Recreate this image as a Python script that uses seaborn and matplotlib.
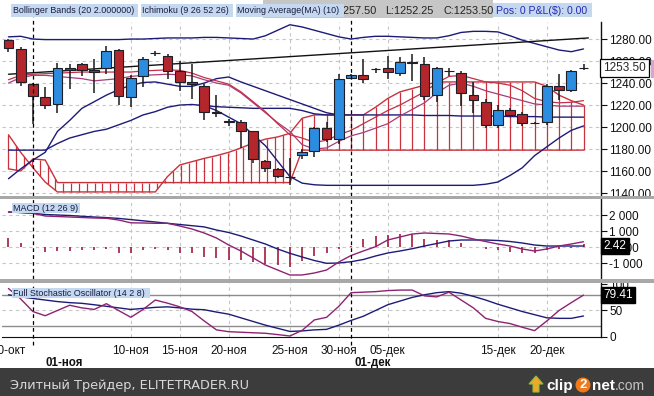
import numpy as np
import matplotlib
matplotlib.use("Agg")
import matplotlib.pyplot as plt
import matplotlib.transforms as mtransforms
from matplotlib.patches import Rectangle, Polygon, Ellipse
import seaborn as sns

sns.set_style("white")
plt.rcParams["font.family"] = ["Liberation Sans", "DejaVu Sans"]

W, H = 654, 396

# ---- price bars (one per session, Sunday sessions included) ----
opens = [1279, 1270.5, 1239.5, 1227, 1220.5, 1254, 1257, 1252, 1253.5, 1270,
         1227.5, 1246, 1267.5, 1265, 1250.5, 1240.5, 1237.5, 1213.5, 1205.5, 1205,
         1196, 1169.5, 1162, 1154.5, 1174.5, 1178, 1199, 1189, 1244.5, 1247.5,
         1253, 1254, 1249, 1259.5, 1257, 1229, 1251, 1249.5, 1229.5, 1223,
         1202, 1215.5, 1212, 1204, 1205, 1237, 1233.5, 1254]
highs = [1280, 1272.5, 1240, 1236.5, 1258, 1257, 1258, 1261.5, 1273.5, 1271,
         1247.5, 1263.5, 1269, 1266, 1260, 1257, 1239.5, 1229, 1207, 1206,
         1196.5, 1170, 1162.5, 1171.5, 1180, 1200, 1205, 1248, 1248.5, 1262,
         1254, 1264.5, 1264, 1266, 1264, 1254.5, 1254, 1250.5, 1241, 1225.5,
         1220, 1217, 1213.5, 1204.5, 1239, 1248, 1252, 1257.5]
lows = [1268, 1237.5, 1203, 1216.5, 1213, 1234.5, 1246, 1230.5, 1248, 1220,
        1218, 1236, 1265, 1244, 1232.5, 1225.5, 1206.5, 1209.5, 1201, 1180.5,
        1167, 1159, 1153.5, 1147.5, 1171, 1173, 1186, 1185, 1243.5, 1240,
        1249, 1243.5, 1246, 1242, 1224.5, 1223, 1246.5, 1219.5, 1212.5, 1199,
        1199.5, 1210, 1201, 1202.5, 1202, 1224.5, 1232, 1252.25]
closes = [1271.5, 1240.5, 1228, 1220, 1253.5, 1251.5, 1252, 1250, 1269.5, 1228,
          1245, 1262, 1267, 1250.5, 1240.5, 1239, 1213.5, 1213, 1205, 1196.5,
          1170.5, 1163, 1155.5, 1154.5, 1177.5, 1199, 1189.5, 1243.5, 1247.5, 1244,
          1252.5, 1250, 1259.5, 1258, 1228.5, 1253.5, 1250.5, 1230.5, 1224.5, 1202,
          1215.5, 1211, 1203.5, 1203.5, 1237, 1233.5, 1251, 1253.5]

tick_pos = [0, 10, 14, 18, 23, 27, 31, 40, 44]
tick_labels = ["30-окт", "10-ноя", "15-ноя", "20-ноя", "25-ноя", "30-ноя",
               "05-дек", "15-дек", "20-дек"]
month_pos = [2, 28]
month_label_x = [3.0, 28.3]
month_labels = ["01-ноя", "01-дек"]

# ---- overlays ----
bb_upper = [1282, 1282.5, 1280, 1279.5, 1279.5, 1279.5, 1279.5, 1279.5, 1279.5, 1279.5,
            1280, 1280, 1280.5, 1281, 1281, 1281, 1281.5, 1281.5, 1281, 1280.5,
            1280, 1283, 1288, 1293, 1291, 1288, 1285, 1282, 1280, 1281.5,
            1282.5, 1282.5, 1282, 1281.5, 1281, 1281, 1283, 1286, 1287, 1287,
            1286.5, 1283, 1279, 1276, 1273, 1270, 1268.5, 1271]
bb_mid = [1179, 1179, 1179, 1179, 1185, 1190, 1193, 1196, 1198, 1202,
          1206, 1211, 1214, 1218, 1220, 1220.5, 1219.5, 1218.5, 1218, 1217.5,
          1217, 1217, 1217, 1217, 1215, 1212, 1211, 1211, 1211, 1211,
          1211, 1211, 1211, 1211, 1210.5, 1210.5, 1210.5, 1210, 1210, 1210,
          1210, 1209.5, 1209.5, 1209.5, 1209, 1209, 1209, 1209]
bb_lower_start = 16
bb_lower = [1219.5, 1215, 1209, 1203, 1193, 1183, 1169, 1155, 1149, 1147.5,
            1147, 1147, 1147, 1147, 1147, 1147, 1147, 1147, 1147, 1147,
            1147, 1147, 1147, 1148, 1150, 1156, 1163, 1174, 1182, 1190,
            1197, 1201]
kijun = [1153, 1162, 1170, 1177, 1196, 1206, 1217, 1223, 1229, 1234,
         1238, 1240.5, 1241, 1239, 1237, 1237, 1240, 1244, 1245.5, 1241,
         1237, 1233, 1229, 1225, 1221, 1217, 1213, 1211]
tenkan = [1243, 1247, 1248, 1248.5, 1249, 1249.5, 1250, 1250, 1250, 1250,
          1250, 1251, 1251.5, 1252, 1251.5, 1249, 1245, 1242, 1239, 1232,
          1223, 1214, 1203, 1193, 1190, 1186, 1188, 1193, 1197, 1203,
          1209, 1215, 1220, 1226, 1232, 1240, 1246, 1247, 1244, 1241,
          1240, 1238, 1233, 1226, 1223, 1222, 1222.5, 1224]
ma10 = [1240, 1245, 1247, 1247, 1246, 1245, 1244, 1242, 1243, 1244,
        1246, 1247, 1247.5, 1248, 1247.5, 1246.5, 1243, 1240, 1238, 1231,
        1222, 1213, 1204, 1196, 1184, 1180, 1181, 1187, 1192, 1195,
        1199, 1203, 1210, 1216, 1222, 1231, 1238, 1240, 1237, 1233,
        1230, 1227, 1224, 1221, 1220, 1219, 1219, 1219]
span_a = [1193, 1177, 1163, 1150, 1141, 1141, 1141, 1141, 1141, 1141,
          1141, 1141, 1141, 1155, 1165.5, 1168.5, 1171.5, 1174, 1177, 1181,
          1185.5, 1189, 1191, 1194.3, 1208, 1211, 1211, 1211, 1211, 1211,
          1218, 1226, 1232, 1235, 1238, 1241, 1241, 1241, 1241, 1241,
          1241, 1241, 1241, 1241, 1237, 1229, 1224, 1220]
span_b = [1162, 1160, 1171, 1170, 1149.5, 1149.5, 1149.5, 1149.5, 1149.5, 1149.5,
          1149.5, 1149.5, 1149.5, 1149.5, 1149.5, 1149.5, 1149.5, 1149.5, 1149.5, 1149.5,
          1149.5, 1149.5, 1149.5, 1149.5, 1179, 1179, 1179, 1179, 1179, 1179,
          1179, 1179, 1179, 1179, 1179, 1179, 1179, 1179, 1179, 1179,
          1179, 1179, 1179, 1179, 1179, 1179, 1179, 1179]
trend_x = [0, 47.4]
trend_y = [1248, 1281]

# ---- MACD (12 26 9) ----
macd_line = [2206, 2175, 2125, 1956, 1925, 1894, 1863, 1831, 1813, 1706,
             1531, 1520, 1500, 1500, 1331, 1144, 894, 581, 144, -231,
             -669, -1106, -1419, -1731, -1731, -1606, -1419, -919, -513, -231,
             38, 456, 644, 831, 894, 863, 831, 706, 519, 363,
             206, 81, -106, -231, -106, 81, 206, 350]
macd_signal = [2206, 2175, 2125, 2050, 2019, 1988, 1938, 1894, 1856, 1806,
               1731, 1656, 1581, 1500, 1425, 1350, 1275, 1081, 925, 706,
               456, 206, -106, -375, -606, -825, -1000, -981, -900, -763,
               -544, -356, -231, -88, 81, 238, 394, 456, 456, 456,
               425, 363, 269, 144, 81, 81, 81, 81]
macd_hist = [560, 290, 0, -270, -210, -230, -170, -170, -80, -330,
             -330, -170, -120, -170, -375, -375, -580, -690, -790, -790,
             -900, -1040, -1100, -1250, -830, -540, -375, -100, 100, 500,
             710, 770, 830, 830, 500, 460, 460, 250, 0, -125,
             -170, -270, -375, -375, -170, -100, -60, 200]

# ---- Full Stochastic (14 2 8) ----
stoch_k = [92, 72, 48, 40, 50, 60, 55, 52, 63, 50,
           37, 52, 70, 64, 57, 48, 30, 13, 9.5, 8.5,
           7.5, 6.5, 4, 1.3, 12, 32, 37, 58, 84, 85,
           86, 88, 89, 89, 78, 76, 85, 70, 55, 35,
           29, 25, 18, 11.5, 30, 50, 65, 79.41]
stoch_d = [80, 76, 73, 70, 67, 65, 63.7, 61, 58, 55,
           52, 54, 56, 57, 55, 52.5, 51.5, 47, 43, 36,
           29, 22, 16, 10, 11, 13, 14, 22, 31, 39,
           50, 61, 68, 75, 80, 84, 86, 83, 77, 70,
           62, 55, 48, 42, 36, 35, 35, 39.5]

RED, BLUE, NAVY = "#b3262b", "#2b8ce0", "#1c1c78"
CLOUD, TENK, MAC = "#c8323c", "#c2304a", "#a83c78"
PURP, HIST, GRID = "#8e2272", "#a01e3c", "#c6c6c6"
LBLUE = "#c4d8ef"

fig = plt.figure(figsize=(W / 100, H / 100), dpi=100)
fig.patch.set_facecolor("white")


def px_axes(x0, y0, x1, y1):
    return fig.add_axes([x0 / W, 1 - y1 / H, (x1 - x0) / W, (y1 - y0) / H])


def box(x0, y0, x1, y1, color, z=1):
    fig.patches.append(Rectangle((x0 / W, 1 - y1 / H), (x1 - x0) / W, (y1 - y0) / H,
                                 transform=fig.transFigure, facecolor=color,
                                 edgecolor="none", zorder=z))


def ftext(x, y, s, **kw):
    fig.text(x / W, 1 - y / H, s, parse_math=False, **kw)


def line(ax, x, y, color, lw=1.0, z=4):
    sns.lineplot(x=list(x), y=list(y), ax=ax, color=color, linewidth=lw,
                 zorder=z, legend=False, sort=False, estimator=None)


def setup(ax, yticks, ylabels, ylim):
    ax.set_xlim(-0.53, 48.43)
    ax.set_ylim(*ylim)
    for s in ("left", "top", "bottom"):
        ax.spines[s].set_visible(False)
    ax.spines["right"].set_color("#111111")
    ax.spines["right"].set_linewidth(1)
    ax.yaxis.tick_right()
    ax.set_yticks(yticks)
    ax.set_yticklabels(ylabels)
    ax.tick_params(axis="y", direction="out", length=4, width=0.8, pad=2,
                   labelsize=8.5, colors="#111111")
    ax.set_xticks(tick_pos)
    ax.tick_params(axis="x", length=0, labelbottom=False)
    for p in tick_pos[1:]:
        ax.axvline(p, color=GRID, lw=0.8, ls=(0, (3, 3)), zorder=0)
    ax.set_xlabel("")
    ax.set_ylabel("")


idx = np.arange(len(closes))

# ---------------- price panel ----------------
ax = px_axes(2, 22, 601, 196)
price_ticks = [1140, 1160, 1180, 1200, 1220, 1240, 1260, 1280]
setup(ax, price_ticks, [f"{v:.2f}" for v in price_ticks], (1137.3, 1295.5))
for v in price_ticks:
    ax.axhline(v, color=GRID, lw=0.8, ls=(0, (3, 3)), zorder=0)

# Ichimoku cloud
line(ax, idx, span_a, CLOUD, 1.0, 2)
line(ax, idx, span_b, CLOUD, 1.0, 2)
hx = np.concatenate([np.arange(0, 23.6, 0.64), np.arange(24, len(idx), 1.0)])
ax.vlines(hx, np.interp(hx, idx, span_a), np.interp(hx, idx, span_b),
          color=CLOUD, lw=0.9, zorder=2)

line(ax, idx, bb_upper, NAVY)
line(ax, idx, bb_mid, NAVY)
line(ax, np.arange(bb_lower_start, bb_lower_start + len(bb_lower)), bb_lower, NAVY)
line(ax, np.arange(len(kijun)), kijun, NAVY)
line(ax, idx, ma10, MAC, 0.9)
line(ax, idx, tenkan, TENK, 0.9)
line(ax, trend_x, trend_y, "#111111", 1.0)

o, c = np.array(opens), np.array(closes)
body_lo = np.minimum(o, c)
body_h = np.maximum(np.abs(c - o), 0.35)
ax.vlines(idx, lows, highs, color="#1a1a1a", lw=1.1, zorder=5)
ax.bar(idx, body_h, bottom=body_lo, width=0.8, color=np.where(c > o, BLUE, RED),
       edgecolor="#1e1e28", linewidth=0.8, zorder=6)

ax.text(1.004, closes[-1], f"{closes[-1]:.2f}", transform=ax.get_yaxis_transform(),
        ha="left", va="center", fontsize=8.5, zorder=10,
        bbox=dict(boxstyle="square,pad=0.25", fc="white", ec="black", lw=0.9))

# ---------------- MACD panel ----------------
axm = px_axes(2, 199, 601, 279)
macd_ticks = [-1000, 0, 1000, 2000]
setup(axm, macd_ticks, ["-1 000", "0 000", "1 000", "2 000"], (-1981, 3019))
for v in macd_ticks:
    axm.axhline(v, color=GRID, lw=0.8, ls=(0, (3, 3)), zorder=0)
axm.vlines(idx, 0, macd_hist, color=HIST, lw=1.2, zorder=3)
line(axm, idx, macd_signal, NAVY)
line(axm, idx, macd_line, PURP)
axm.text(1.004, macd_signal[-1], "2.42", transform=axm.get_yaxis_transform(),
         ha="left", va="center", fontsize=8.5, color="white", zorder=10,
         bbox=dict(boxstyle="square,pad=0.2", fc="black", ec="black"))

# ---------------- Stochastic panel ----------------
axs = px_axes(2, 283, 601, 337)
setup(axs, [0, 50, 100], ["0", "50", "100"], (-0.6, 102.5))
axs.spines["bottom"].set_visible(True)
axs.spines["bottom"].set_color("#111111")
axs.tick_params(axis="x", length=4, width=0.8, direction="out", pad=1.5,
                labelbottom=True, labelsize=8.5, colors="#111111")
axs.set_xticklabels(tick_labels)
axs.axhline(80, color="#8c8c8c", lw=1, zorder=0)
axs.axhline(20, color="#8c8c8c", lw=1, zorder=0)
axs.axhline(50, color=GRID, lw=0.8, ls=(0, (3, 3)), zorder=0)
line(axs, idx, stoch_d, NAVY)
line(axs, idx, stoch_k, PURP)
axs.text(1.004, stoch_k[-1], f"{stoch_k[-1]:.2f}", transform=axs.get_yaxis_transform(),
         ha="left", va="center", fontsize=8.5, color="white", zorder=10,
         bbox=dict(boxstyle="square,pad=0.2", fc="black", ec="black"))
blend = mtransforms.blended_transform_factory(axs.transData, axs.transAxes)
for xm, lab in zip(month_label_x, month_labels):
    axs.text(xm, -0.48, lab, transform=blend, ha="left", va="center",
             fontsize=8.3, fontweight="bold", color="#111111")

# month separators through all panels
for m in month_pos:
    ax.axvline(m, ymin=0, ymax=1.03, color="black", lw=0.9, ls=(0, (3, 2.5)),
               zorder=7, clip_on=False)
    axm.axvline(m, color="black", lw=0.9, ls=(0, (3, 2.5)), zorder=7)
    axs.axvline(m, ymin=-0.15, ymax=1, color="black", lw=0.9, ls=(0, (3, 2.5)),
                zorder=7, clip_on=False)

# panel separators
box(0, 196, 654, 199, "#a8a8a8", 2)
box(0, 279, 654, 283, "#a8a8a8", 2)
box(651, 60, 654, 78, "#dca2d2", 2)

# panel captions
box(12, 203, 80, 213, LBLUE, 2)
ftext(13, 208, "MACD (12 26 9)", fontsize=6.5, va="center", color="#1a1a40", zorder=3)
box(12, 288, 150, 298, LBLUE, 2)
ftext(13, 293, "Full Stochastic Oscillator (14 2 8)", fontsize=6.4, va="center",
      color="#1a1a40", zorder=3)

# header bar
box(263, 0, 493, 18, "#c6c6c6", 1)
ftext(326, 10.5, "H:1257.50", fontsize=7.8, va="center", color="#222222", zorder=3)
ftext(385, 10.5, "L:1252.25", fontsize=7.8, va="center", color="#222222", zorder=3)
ftext(443, 10.5, "C:1253.50", fontsize=7.8, va="center", color="#222222", zorder=3)
box(11, 4, 138, 17, LBLUE, 4)
ftext(13, 10.5, "Bollinger Bands (20 2.000000)", fontsize=6.4, va="center",
      color="#1a1a40", zorder=5)
box(141, 4, 233, 17, LBLUE, 4)
ftext(142, 10.5, "Ichimoku (9 26 52 26)", fontsize=6.4, va="center",
      color="#1a1a40", zorder=5)
box(236, 4, 344, 17, LBLUE, 4)
ftext(237, 10.5, "Moving Average(MA) (10)", fontsize=6.4, va="center",
      color="#1a1a40", zorder=5)
box(493, 3, 592, 17, LBLUE, 4)
ftext(496, 10.5, "Pos: 0 P&L($): 0.00", fontsize=7.6, va="center",
      color="#2a2ab0", zorder=5)

# footer
box(0, 368, 654, 396, "#3c3c3c", 1)
ftext(10, 385, "Элитный Трейдер, ELITETRADER.RU", fontsize=9.3, va="center",
      color="#d8d8d8", family="DejaVu Sans", zorder=3)
arrow = [(536, 376), (529, 384), (533, 384), (533, 392), (539, 392), (539, 384), (543, 384)]
fig.patches.append(Polygon([(x / W, 1 - y / H) for x, y in arrow], closed=True,
                           transform=fig.transFigure, fc="#f0a828", ec="#8cc040",
                           lw=0.8, zorder=3))
fig.patches.append(Ellipse((583 / W, 1 - 385 / H), 15 / W, 15 / H,
                           transform=fig.transFigure, fc="#f07a1a", ec="none", zorder=3))
ftext(546, 390, "clip", fontsize=11, fontweight="bold", color="white", zorder=4)
ftext(583, 385.5, "2", fontsize=9.5, fontweight="bold", color="white", ha="center",
      va="center", zorder=4)
ftext(592, 390, "net", fontsize=11, fontweight="bold", color="white", zorder=4)
ftext(615, 390, ".com", fontsize=10, color="#c4c4c4", zorder=4)

fig.savefig("out.png", dpi=100)
